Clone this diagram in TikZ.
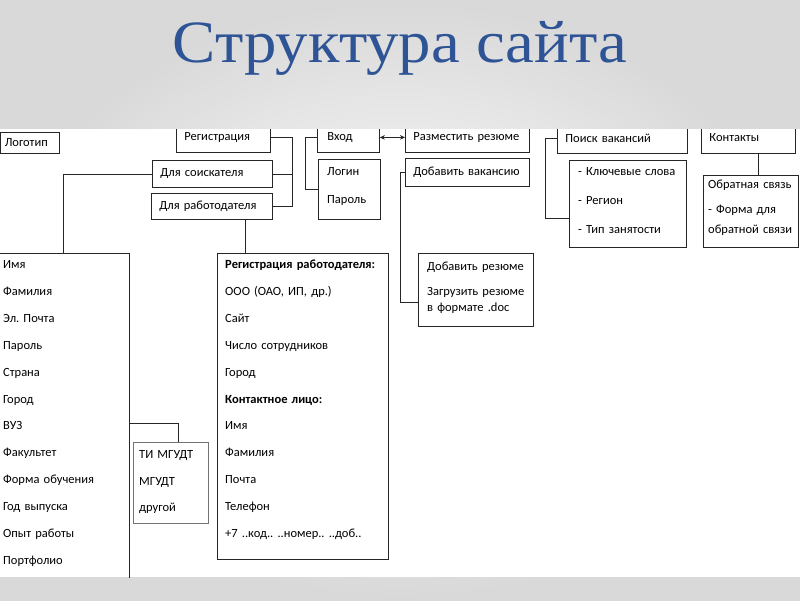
\documentclass[tikz,border=0pt]{standalone}
\usepackage{fontspec}
\setmainfont{Carlito}
\newfontfamily\titlefont[FakeStretch = 1.08]{Liberation Serif}
\usetikzlibrary{arrows.meta}
\definecolor{titleblue}{RGB}{46,84,150}
\tikzset{
  box/.style = {draw = black!85, line width = 0.8pt, anchor = north west, inner xsep = 8pt, inner ysep = 0pt, align = left, font = \fontsize{12.5}{15}\selectfont},
  frame/.style = {draw = black!85, line width = 0.8pt, anchor = north west, inner sep = 0pt},
  list/.style = {anchor = base west, inner sep = 0pt, align = left, text width = 160pt},
  link/.style = {draw = black!85, line width = 0.8pt}
}
\frenchspacing

\begin{document}
\begin{tikzpicture}[x = 1pt, y = -1pt]
    \useasboundingbox (0, 0) rectangle (800, 600);
    % slide
    \shade[inner color = white, outer color = black!15] (0, 0) rectangle (800, 600);
    \node[font = \titlefont\fontsize{60}{60}\selectfont, text = titleblue, anchor = base] (title) at (400, 62) {Структура сайта};
    \fill[white] (0, 129) rectangle (800, 577);

    \begin{scope}
        \clip (0, 129) rectangle (800, 577);

        % top row
        \node[box, inner xsep = 4pt, text width = 51pt, minimum height = 21pt] (logo) at (0.4, 132) {Логотип};
        \node[box, text width = 78pt, minimum height = 30pt] (registr) at (176, 122) {Регистрация};
        \node[box, text width = 104pt, minimum height = 27pt] (seeker) at (152, 160) {Для соискателя};
        \node[box, text width = 105pt, minimum height = 26pt] (employer) at (151, 193) {Для работодателя};
        \node[box, inner xsep = 10pt, text width = 42pt, minimum height = 30pt] (vhod) at (317, 122) {Вход};
        \node[frame, minimum width = 62pt, minimum height = 60pt] (login) at (318, 159) {};
        \node[list, font = \fontsize{12.5}{28}\selectfont] (logintext) at (327, 175.5) {Логин\\Пароль};
        \node[box, text width = 108pt, minimum height = 30pt] (razm) at (405, 122) {Разместить резюме};
        \node[box, text width = 108pt, minimum height = 28pt] (addvac) at (405, 158) {Добавить вакансию};
        \node[box, text width = 114pt, minimum height = 31pt] (poisk) at (557, 122) {Поиск вакансий};
        \node[frame, minimum width = 117pt, minimum height = 87pt] (keywords) at (569, 160) {};
        \node[list, font = \fontsize{12.5}{29}\selectfont] (keytext) at (578, 175.5) {- Ключевые слова\\- Регион\\- Тип занятости};
        \node[box, text width = 78pt, minimum height = 31pt] (kontakty) at (701, 122) {Контакты};
        \node[frame, minimum width = 95pt, minimum height = 72pt] (feedback) at (703, 175) {};
        \node[list, font = \fontsize{12.5}{20}\selectfont] (feedtext) at (708, 188.5) {Обратная связь\\[5pt]- Форма для\\обратной связи};

        % lower boxes
        \node[frame, minimum width = 115pt, minimum height = 73pt] (addres) at (418, 253) {};
        \node[list, font = \fontsize{12.5}{16}\selectfont] (addtext) at (427, 270.5) {Добавить резюме\\[9pt]Загрузить резюме\\в формате .doc};
        \node[frame, minimum width = 132pt, minimum height = 400pt] (seekerbox) at (-3, 253) {};
        \node[list, font = \fontsize{12.5}{26.9}\selectfont] (seekertext) at (3, 268.5) {Имя\\Фамилия\\Эл. Почта\\Пароль\\Страна\\Город\\ВУЗ\\Факультет\\Форма обучения\\Год выпуска\\Опыт работы\\Портфолио};
        \node[frame, draw = black!55, minimum width = 75pt, minimum height = 81pt] (vuzbox) at (133, 442) {};
        \node[list, font = \fontsize{12.5}{26.5}\selectfont] (vuztext) at (139, 458.5) {ТИ МГУДТ\\МГУДТ\\другой};
        \node[frame, minimum width = 171pt, minimum height = 306pt] (empbox) at (217, 253) {};
        \node[list, font = \fontsize{12.5}{26.9}\selectfont] (emptext) at (225, 268.5) {\textbf{Регистрация работодателя:}\\ООО (ОАО, ИП, др.)\\Сайт\\Число сотрудников\\Город\\\textbf{Контактное лицо:}\\Имя\\Фамилия\\Почта\\Телефон\\+7 ..код.. ..номер.. ..доб..};

        % connectors
        \coordinate (brk) at (292, 0);
        \draw[link] (registr.east) -- (registr.east -| brk) |- (employer.east);
        \draw[link] (seeker.east) -- (seeker.east -| brk);
        \draw[link] (seeker.west) -| (seekerbox.north);
        \coordinate (emptap) at (245, 0);
        \draw[link] (employer.south -| emptap) -- (empbox.north -| emptap);
        \coordinate (vtap) at (305, 0);
        \draw[link] (vhod.west) -- (vhod.west -| vtap) |- (login.west);
        \draw[link, {Stealth[length = 5pt, width = 4.5pt]}-{Stealth[length = 5pt, width = 4.5pt]}] (vhod.east) -- (razm.west);
        \coordinate (atap) at (400, 302);
        \draw[link] (addvac.west) -| (atap) -- (atap -| addres.west);
        \coordinate (ptap) at (545, 218);
        \draw[link] (poisk.west) -| (ptap) -- (ptap -| keywords.west);
        \coordinate (ktap) at (758, 0);
        \draw[link] (kontakty.south -| ktap) -- (feedback.north -| ktap);
        \coordinate (vuztap) at (178, 423);
        \draw[link] (vuztap -| seekerbox.east) -| (vuzbox.north -| vuztap);
    \end{scope}
\end{tikzpicture}
\end{document}
